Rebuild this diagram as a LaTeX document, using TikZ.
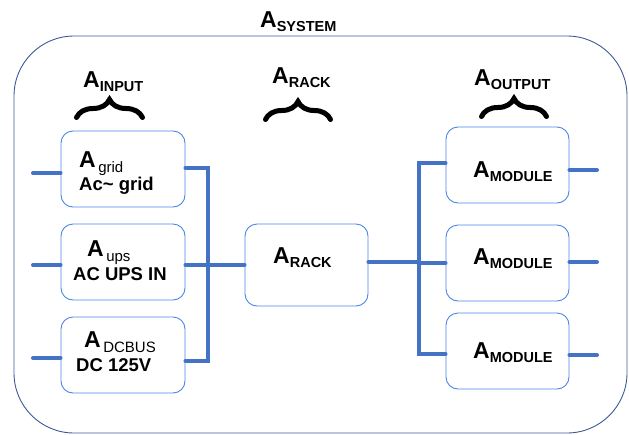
\documentclass[tikz,border=0pt]{standalone}
\usepackage{fontspec}
\setmainfont{Liberation Sans}
\usetikzlibrary{decorations.pathreplacing}
\definecolor{framecol}{HTML}{3D5A98}
\definecolor{boxcol}{HTML}{4A86E8}
\definecolor{wirecol}{HTML}{4472C4}
% big A with a capital subscript, and with a small one
\newcommand{\Acap}[1]{{\fontsize{23}{23}\selectfont\bfseries A}{\fontsize{14.5}{14.5}\selectfont\bfseries\raisebox{-4.5pt}{#1}}}
\newcommand{\Alow}[1]{{\fontsize{23}{23}\selectfont\bfseries A}\hspace{2.5pt}{\fontsize{15}{15}\selectfont\raisebox{-5.5pt}{#1}}}
\newcommand{\Aline}[1]{{\fontsize{18.5}{18.5}\selectfont\bfseries #1}}

\begin{document}
\begin{tikzpicture}[x=1pt,y=-1pt,
    box/.style={draw=boxcol, line width=0.9pt, rounded corners=12pt, minimum width=124pt, minimum height=76pt, inner sep=0pt},
    wire/.style={draw=wirecol, line width=4pt, line cap=round},
    topbrace/.style={decorate, decoration={brace, amplitude=18pt}, line width=5pt, line cap=round}]
    %%%%% FRAME %%%%%
    \useasboundingbox (0,0) rectangle (629,434);
    \draw[framecol, line width=0.9pt, rounded corners=60pt] (14,36) rectangle (627,433);
    \node[anchor=base west, inner sep=0pt] (systitle) at (260,27) {\Acap{SYSTEM}};

    %%%%% TITLES %%%%%
    \node[anchor=base west, inner sep=0pt] (intitle) at (83,87) {\Acap{INPUT}};
    \node[anchor=base west, inner sep=0pt] (racktitle) at (272,83) {\Acap{RACK}};
    \node[anchor=base west, inner sep=0pt] (outtitle) at (474,85) {\Acap{OUTPUT}};
    \draw[topbrace] (76.5,117.5) -- (142.5,117.5);
    \draw[topbrace] (265.5,119.5) -- (330.5,119.5);
    \draw[topbrace] (481.5,116.5) -- (546.5,116.5);

    %%%%% BOXES %%%%%
    \node[box] (grid) at (123,169) {};
    \node[box] (ups) at (123,262) {};
    \node[box] (dcbus) at (123,355) {};
    \node[box, minimum width=123pt, minimum height=82pt] (rack) at (306.5,265) {};
    \node[box, minimum width=123pt] (mod1) at (507.5,165) {};
    \node[box, minimum width=123pt] (mod2) at (507.5,263) {};
    \node[box, minimum width=123pt] (mod3) at (507.5,351) {};

    \node[anchor=base west, inner sep=0pt] (gridname) at (79,167) {\Alow{grid}};
    \node[anchor=base west, inner sep=0pt] (gridtext) at (79,190) {\Aline{Ac\char`~{} grid}};
    \node[anchor=base west, inner sep=0pt] (upsname) at (87,256) {\Alow{ups}};
    \node[anchor=base west, inner sep=0pt] (upstext) at (73,280) {\Aline{AC UPS IN}};
    \node[anchor=base west, inner sep=0pt] (dcname) at (84,347) {\Alow{DCBUS}};
    \node[anchor=base west, inner sep=0pt] (dctext) at (76,371) {\Aline{DC 125V}};
    \node[anchor=base west, inner sep=0pt] (rackname) at (273,263) {\Acap{RACK}};
    \node[anchor=base west, inner sep=0pt] (mod1name) at (473,177) {\Acap{MODULE}};
    \node[anchor=base west, inner sep=0pt] (mod2name) at (473,264) {\Acap{MODULE}};
    \node[anchor=base west, inner sep=0pt] (mod3name) at (473,358) {\Acap{MODULE}};

    %%%%% WIRES %%%%%
    \coordinate (gridin) at (33,173);
    \coordinate (upsin) at (33,265);
    \coordinate (dcin) at (33,358);
    \coordinate (inbustop) at (208,168);
    \coordinate (inbusbot) at (208,361);
    \coordinate (outbustop) at (419,163);
    \coordinate (outbusbot) at (419,354);
    \coordinate (mod1out) at (597,170);
    \coordinate (mod2out) at (597,262);
    \coordinate (mod3out) at (597,355);

    \draw[wire] (gridin) -- (gridin -| grid.west);
    \draw[wire] (upsin) -- (upsin -| ups.west);
    \draw[wire] (dcin) -- (dcin -| dcbus.west);
    \draw[wire] (grid.east |- inbustop) -- (inbustop) -- (inbusbot) -- (dcbus.east |- inbusbot);
    \draw[wire] (upsin -| ups.east) -- (upsin -| rack.west);
    \draw[wire] ([yshift=3pt]rack.east) -- ([yshift=3pt]rack.east -| outbustop);
    \draw[wire] (outbustop -| mod1.west) -- (outbustop) -- (outbusbot) -- (outbusbot -| mod3.west);
    \draw[wire] (outbustop |- mod2.west) -- (mod2.west);
    \draw[wire] (mod1out -| mod1.east) -- (mod1out);
    \draw[wire] (mod2out -| mod2.east) -- (mod2out);
    \draw[wire] (mod3out -| mod3.east) -- (mod3out);
\end{tikzpicture}
\end{document}
